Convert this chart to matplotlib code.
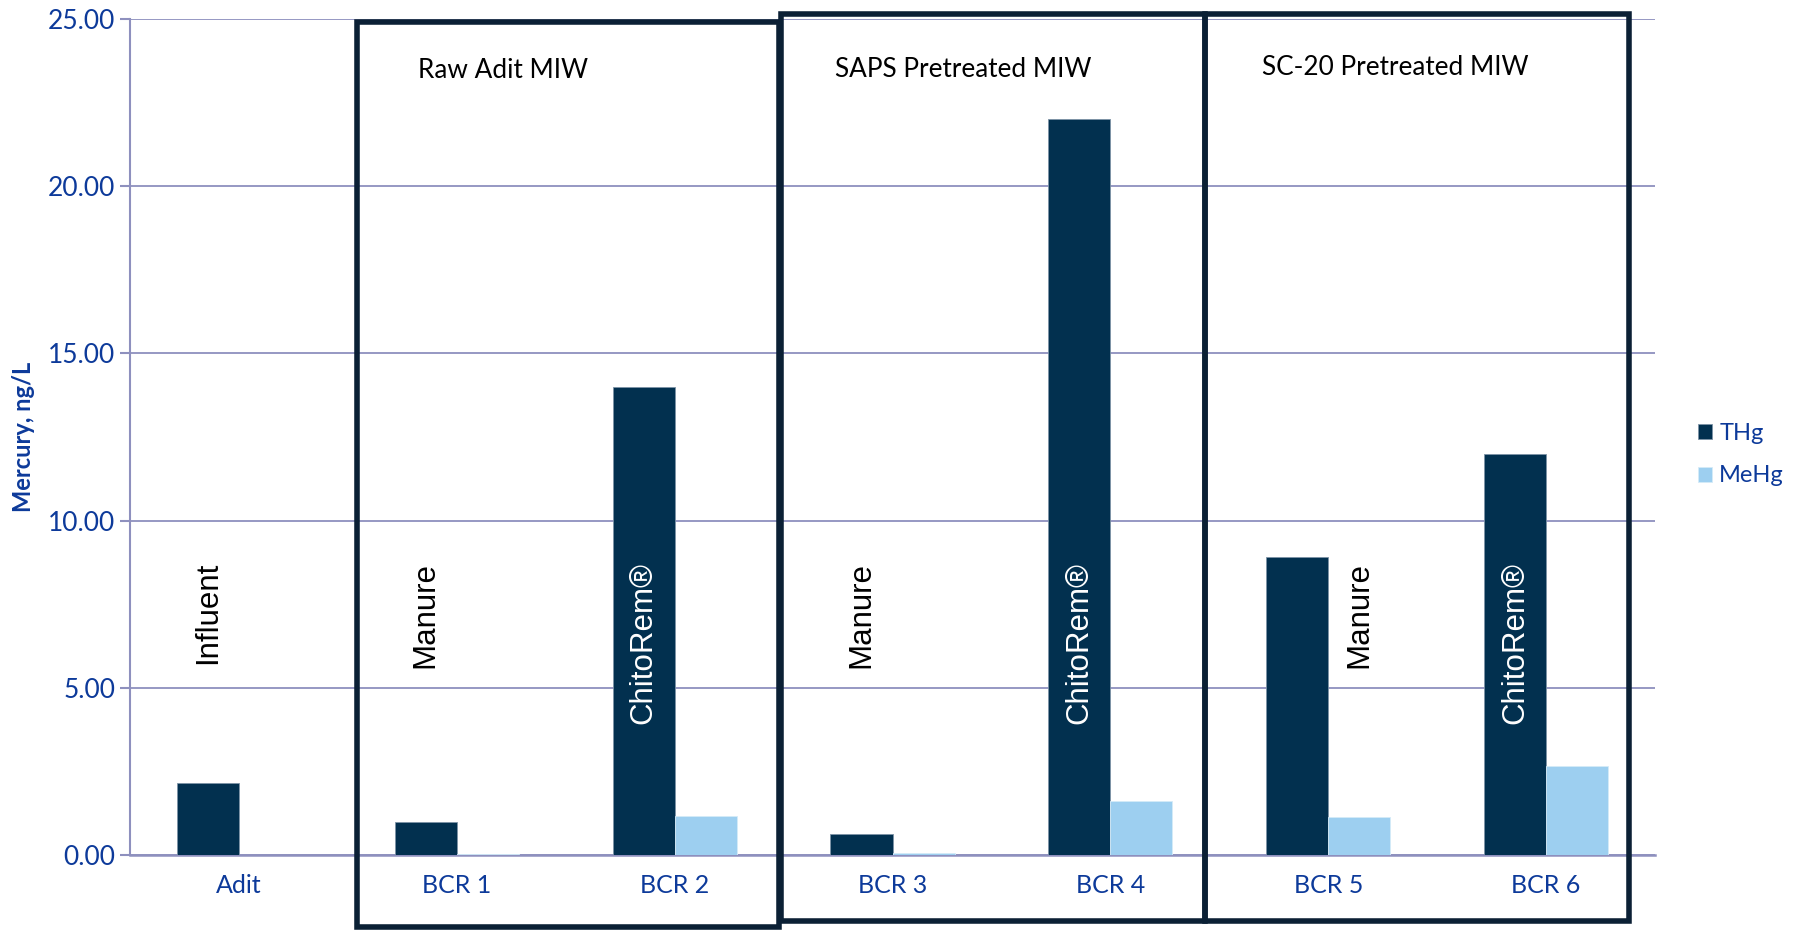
import numpy as np
import matplotlib.pyplot as plt
from matplotlib.patches import Rectangle

categories = ["Adit", "BCR 1", "BCR 2", "BCR 3", "BCR 4", "BCR 5", "BCR 6"]
thg = [2.15, 1.0, 14.0, 0.63, 22.0, 8.9, 12.0]
mehg = [0.0, 0.03, 1.18, 0.07, 1.62, 1.15, 2.66]
media = ["Influent", "Manure", "ChitoRem®", "Manure", "ChitoRem®", "Manure", "ChitoRem®"]
groups = ["Raw Adit MIW", "SAPS Pretreated MIW", "SC-20 Pretreated MIW"]

BLUE = "#0D3A9A"
GRID = "#8E90BE"
THG_C = "#02304F"
MEHG_C = "#9DCFF0"
BOX_C = "#0B2035"

plt.rcParams['font.family'] = ['Lato', 'DejaVu Sans']

fig = plt.figure(figsize=(17.98, 9.30), dpi=100)
ax = fig.add_axes([0.0723, 0.0806, 0.8482, 0.899])

x = np.arange(len(categories))
w = 0.285
ax.bar(x - w / 2, thg, w, color=THG_C, edgecolor="#7d93a6", linewidth=0.6, label="THg", zorder=3)
ax.bar(x + w / 2, mehg, w, color=MEHG_C, edgecolor="#d5ebf8", linewidth=0.6, label="MeHg", zorder=3)

ax.set_xlim(-0.5, len(categories) - 0.5)
ax.set_ylim(0, 25)
ax.set_yticks(np.arange(0, 25.01, 5))
ax.set_yticklabels([f"{v:.2f}" for v in np.arange(0, 25.01, 5)])
ax.set_xticks(x)
ax.set_xticklabels(categories)
ax.tick_params(axis="y", colors=GRID, labelcolor=BLUE, labelsize=19, length=7, width=1.5)
ax.tick_params(axis="x", length=0, labelcolor=BLUE, labelsize=18, pad=14)
ax.grid(axis="y", color=GRID, linewidth=1.3, zorder=0)
for s in ["top", "right"]:
    ax.spines[s].set_visible(False)
ax.spines["left"].set_color(GRID)
ax.spines["left"].set_linewidth(1.5)
ax.spines["bottom"].set_color(GRID)
ax.spines["bottom"].set_linewidth(1.8)
ax.set_ylabel("Mercury, ng/L", color=BLUE, fontsize=17, fontweight="bold")
ax.yaxis.set_label_coords(-0.062, 0.5)

# rotated medium labels
label_x = [-w / 2, -w / 2, -w / 2, -w / 2, -w / 2, w / 2, -w / 2]
for i, (m, dx) in enumerate(zip(media, label_x)):
    col = "white" if m.startswith("Chito") else "black"
    ax.text(i + dx, 8.77, m, rotation=90, ha="center", va="top", fontsize=22.5,
            color=col, family=["Liberation Sans", "DejaVu Sans"], zorder=5)

# group boxes
boxes = [(0.54, 2.477, -2.16, 24.9), (2.488, 4.433, -1.98, 25.15), (4.433, 6.379, -1.98, 25.15)]
for (x0, x1, y0, y1) in boxes:
    ax.add_patch(Rectangle((x0, y0), x1 - x0, y1 - y0, fill=False, edgecolor=BOX_C,
                           linewidth=4, clip_on=False, zorder=6))

label_pos = [(0.824, 23.47), (2.735, 23.5), (4.697, 23.56)]
for g, (gx, gy) in zip(groups, label_pos):
    ax.text(gx, gy, g, ha="left", va="center", fontsize=18.8, color="black", zorder=6)

ax.legend(loc="center left", bbox_to_anchor=(0.9444, 0.511), bbox_transform=fig.transFigure,
          frameon=False, fontsize=17, labelcolor=BLUE, handlelength=0.6, handleheight=0.6,
          handletextpad=0.3, labelspacing=0.9, borderpad=0, borderaxespad=0)

fig.savefig("out.png", dpi=100)
